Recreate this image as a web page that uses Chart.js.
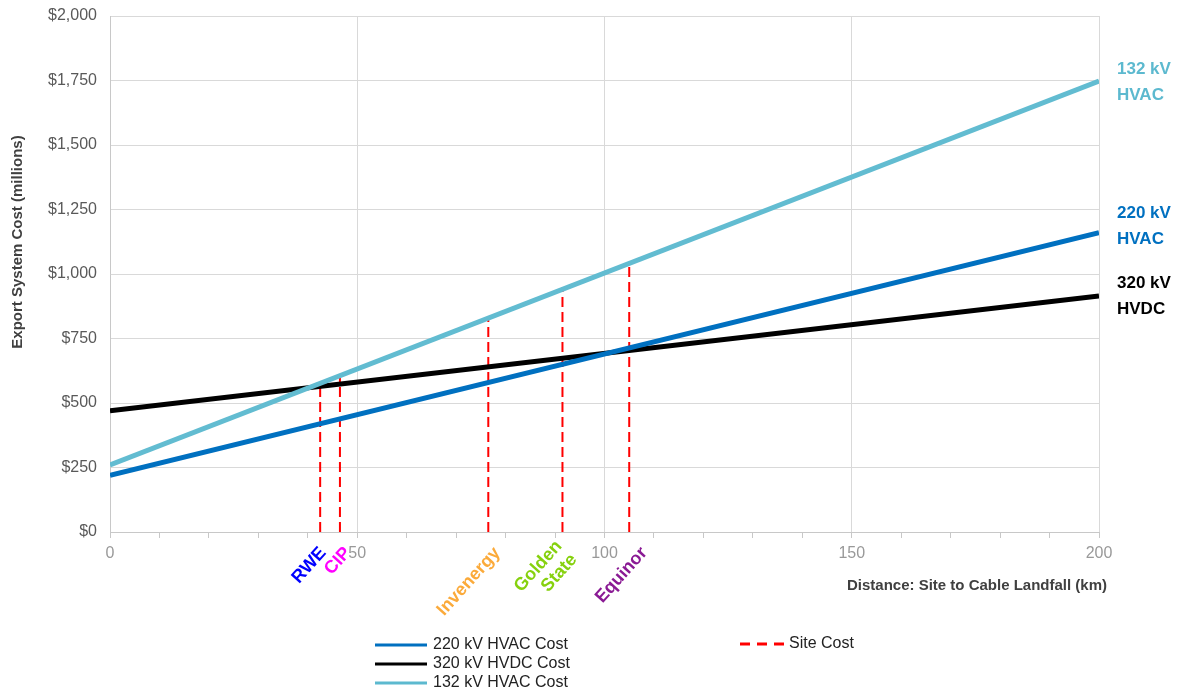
<!DOCTYPE html>
<html lang="en">
<head>
    <meta charset="UTF-8">
    <title>Export System Cost vs Distance</title>
    <script src="https://cdn.jsdelivr.net/npm/chart.js"></script>
    <style>
        body { margin: 0; background: #fff; }
        #wrap { width: 1189px; height: 692px; position: relative; }
    </style>
</head>
<body>
    <div id="wrap"><canvas id="costChart"></canvas></div>

    <script>
        // distance (km) end points of the cost lines
        const distance = [0, 200];
        const cost132 = [260, 1748];
        const cost220 = [220, 1160];
        const cost320 = [470, 915];

        // sites: distance to landfall and cost (on the 132 kV line)
        const siteNames = [['RWE'], ['CIP'], ['Invenergy'], ['Golden', 'State'], ['Equinor']];
        const siteColors = ['#0000FF', '#FF00FF', '#FBAA3A', '#86D10E', '#8A1A94'];
        const siteKm = [42.5, 46.5, 76.5, 91.5, 105];
        const siteCost = [577, 605, 835, 948, 1045];

        const yTicks = [0, 250, 500, 750, 1000, 1250, 1500, 1750, 2000];
        const xLabels = [0, 50, 100, 150, 200];

        const FONT = '"Liberation Sans", Arial, sans-serif';

        function pts(xs, ys) {
            return xs.map((x, i) => ({ x: x, y: ys[i] }));
        }

        const siteData = [];
        siteKm.forEach((km, i) => {
            siteData.push({ x: km, y: 0 }, { x: km, y: siteCost[i] }, { x: km, y: null });
        });

        const endLabels = [
            { ds: 0, text: ['220 kV', 'HVAC'], color: '#0070C0', dy: -6 },
            { ds: 1, text: ['320 kV', 'HVDC'], color: '#000000', dy: 0 },
            { ds: 2, text: ['132 kV', 'HVAC'], color: '#5CB9CF', dy: 1 }
        ];

        const extras = {
            id: 'extras',
            afterDraw(chart) {
                const ctx = chart.ctx;
                const area = chart.chartArea;
                const xs = chart.scales.x;
                ctx.save();

                // line end labels
                ctx.font = 'bold 17px ' + FONT;
                ctx.textAlign = 'left';
                ctx.textBaseline = 'middle';
                endLabels.forEach(l => {
                    const meta = chart.getDatasetMeta(l.ds);
                    const last = meta.data[meta.data.length - 1];
                    ctx.fillStyle = l.color;
                    ctx.fillText(l.text[0], area.right + 18, last.y + l.dy - 13);
                    ctx.fillText(l.text[1], area.right + 18, last.y + l.dy + 13);
                });

                // site names under the axis (small hand nudges like the original)
                const nudge = [-3, 2, 3, -2, 9];
                ctx.font = 'bold 18px ' + FONT;
                ctx.textAlign = 'right';
                ctx.textBaseline = 'middle';
                siteNames.forEach((lines, i) => {
                    const px = xs.getPixelForValue(siteKm[i]);
                    ctx.save();
                    ctx.translate(px + 6 + nudge[i], area.bottom + 18);
                    ctx.rotate(-48 * Math.PI / 180);
                    ctx.fillStyle = siteColors[i];
                    const lh = 20;
                    lines.forEach((t, j) => {
                        ctx.fillText(t, 0, (j - (lines.length - 1) / 2) * lh);
                    });
                    ctx.restore();
                });

                // axis titles
                ctx.fillStyle = '#404040';
                ctx.font = 'bold 15px ' + FONT;
                ctx.textAlign = 'right';
                ctx.textBaseline = 'middle';
                ctx.fillText('Distance: Site to Cable Landfall (km)', area.right + 8, 586);
                ctx.save();
                ctx.translate(18, 242);
                ctx.rotate(-Math.PI / 2);
                ctx.textAlign = 'center';
                ctx.fillText('Export System Cost (millions)', 0, 0);
                ctx.restore();

                // legend
                const legend = [
                    { label: '220 kV HVAC Cost', color: '#0070C0', x: 375, y: 645, dash: [] },
                    { label: '320 kV HVDC Cost', color: '#000000', x: 375, y: 664, dash: [] },
                    { label: '132 kV HVAC Cost', color: '#5CB9CF', x: 375, y: 683, dash: [] },
                    { label: 'Site Cost', color: '#FF0000', x: 740, y: 644, dash: [10, 7] }
                ];
                ctx.font = '16px ' + FONT;
                ctx.textAlign = 'left';
                legend.forEach(l => {
                    ctx.strokeStyle = l.color;
                    ctx.lineWidth = 3;
                    ctx.setLineDash(l.dash);
                    ctx.beginPath();
                    ctx.moveTo(l.x, l.y);
                    ctx.lineTo(l.x + (l.dash.length ? 44 : 52), l.y);
                    ctx.stroke();
                    ctx.setLineDash([]);
                    ctx.fillStyle = '#222';
                    ctx.fillText(l.label, l.x + (l.dash.length ? 49 : 58), l.y);
                });

                ctx.restore();
            }
        };

        new Chart(document.getElementById('costChart').getContext('2d'), {
            type: 'line',
            data: {
                datasets: [
                    { label: '220 kV HVAC Cost', data: pts(distance, cost220), borderColor: '#0070C0', borderWidth: 5, pointRadius: 0, order: 2 },
                    { label: '320 kV HVDC Cost', data: pts(distance, cost320), borderColor: '#000000', borderWidth: 5, pointRadius: 0, order: 3 },
                    { label: '132 kV HVAC Cost', data: pts(distance, cost132), borderColor: '#62BCD1', borderWidth: 5, pointRadius: 0, order: 1 },
                    { label: 'Site Cost', data: siteData, borderColor: '#FF0000', borderWidth: 2, borderDash: [10, 5], pointRadius: 0, spanGaps: false, order: 10 }
                ]
            },
            options: {
                responsive: true,
                maintainAspectRatio: false,
                animation: false,
                layout: { padding: { top: 16, right: 90, bottom: 0, left: 0 } },
                plugins: { legend: { display: false }, tooltip: { enabled: false } },
                scales: {
                    x: {
                        type: 'linear',
                        min: 0,
                        max: 200,
                        afterFit(scale) {
                            scale.height = 160;
                            scale.paddingLeft = 0;
                            scale.paddingRight = 0;
                        },
                        ticks: {
                            stepSize: 10,
                            autoSkip: false,
                            maxRotation: 0,
                            padding: 6,
                            color: '#999999',
                            font: { family: FONT, size: 16 },
                            callback: v => xLabels.includes(v) ? String(v) : ''
                        },
                        grid: {
                            color: c => (c.tick && c.tick.value % 50 === 0) ? '#D9D9D9' : 'rgba(0,0,0,0)',
                            tickColor: '#C8C8C8',
                            tickLength: 6,
                            lineWidth: 1
                        },
                        border: { color: '#C8C8C8' }
                    },
                    y: {
                        min: 0,
                        max: 2000,
                        afterFit(scale) {
                            scale.width = 110;
                            scale.paddingTop = 0;
                            scale.paddingBottom = 0;
                        },
                        afterBuildTicks(scale) { scale.ticks = yTicks.map(v => ({ value: v })); },
                        ticks: {
                            padding: 13,
                            color: '#595959',
                            font: { family: FONT, size: 16 },
                            callback: v => '$' + v.toLocaleString('en-US')
                        },
                        grid: { color: '#D9D9D9', drawTicks: false },
                        border: { color: '#C8C8C8' }
                    }
                }
            },
            plugins: [extras]
        });
    </script>
</body>
</html>
